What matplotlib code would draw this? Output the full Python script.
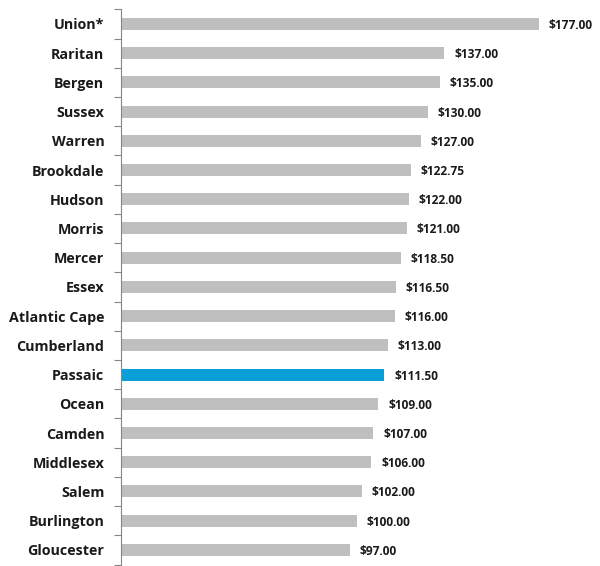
import matplotlib
matplotlib.use("Agg")
import matplotlib.pyplot as plt
from matplotlib.ticker import FixedLocator

categories = ["Union*", "Raritan", "Bergen", "Sussex", "Warren", "Brookdale", "Hudson",
              "Morris", "Mercer", "Essex", "Atlantic Cape", "Cumberland", "Passaic",
              "Ocean", "Camden", "Middlesex", "Salem", "Burlington", "Gloucester"]
values = [177.00, 137.00, 135.00, 130.00, 127.00, 122.75, 122.00, 121.00, 118.50,
          116.50, 116.00, 113.00, 111.50, 109.00, 107.00, 106.00, 102.00, 100.00, 97.00]
highlight = "Passaic"

plt.rcParams['font.family'] = ['Open Sans', 'DejaVu Sans']

fig = plt.figure(figsize=(6.0, 5.66), dpi=100)
ax = fig.add_axes([121/600, 0.0, 479/600, 1 - 9.3/566])

ypos = list(range(len(categories)))
colors = ["#0A9FD8" if c == highlight else "#BFBFBF" for c in categories]
ax.barh(ypos, values, height=0.41, color=colors, zorder=2)

for y, v in zip(ypos, values):
    ax.text(v + 4.2, y + 0.05, f"${v:,.2f}", va="center", ha="left",
            fontsize=8.6, fontweight="bold", color="#1a1a1a")

ax.set_ylim(len(categories) - 0.5 + 0.05, -0.5)
ax.set_xlim(0, 203)
ax.set_yticks(ypos)
ax.set_yticklabels(categories, fontsize=10.3, fontweight="bold", color="#1a1a1a")
ax.tick_params(axis="y", which="major", length=0, pad=12)
ax.yaxis.set_minor_locator(FixedLocator([i - 0.5 for i in range(len(categories) + 1)]))
ax.tick_params(axis="y", which="minor", length=5, width=0.8, color="#868686", direction="out")
ax.set_xticks([])
for s in ["top", "right", "bottom"]:
    ax.spines[s].set_visible(False)
ax.spines["left"].set_color("#868686")
ax.spines["left"].set_linewidth(0.8)

fig.savefig("out.png", dpi=100)
